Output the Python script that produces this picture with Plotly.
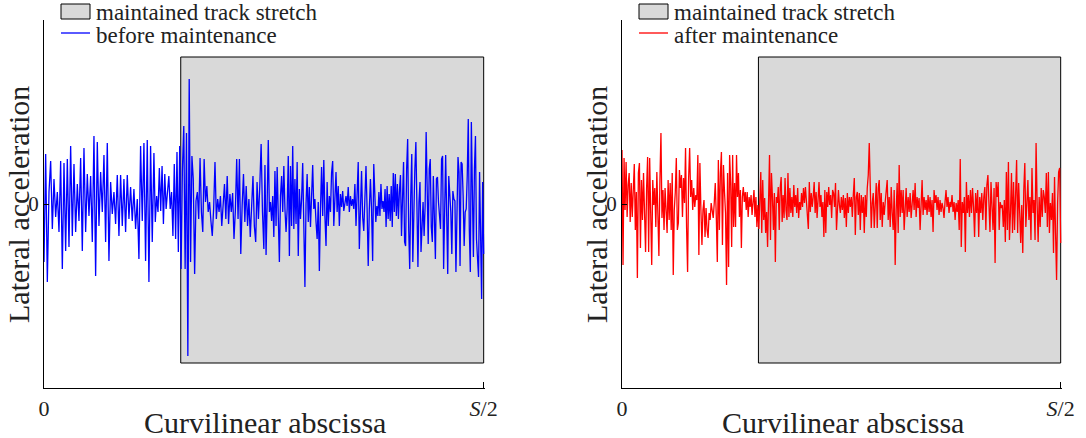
import numpy as np
import plotly.graph_objects as go

# ---- data (lateral acceleration, arbitrary units; abscissa in units of S/2) ----
before_q1 = [-58,50,-78,12,43,-25,25,-13,12,-28,43,-65,41,-47,45,-43,58,-32,40,-28,20,-17,46,-47,56,-28,30,-12,28,-38,68,-72,62,-22,32,-8,49,-38,61,-57,22,-10,12,-20,29,-32,29,-22,25,-28,29,-15,17,-17,15,-25,5,-55,58,-17,61,-57,64,-78,58,-38]
before_q2 = [51,-18,8,-8,36,-7,38,-20,30,-5,12,28,-5,12,-32,40,-35,52,-48,58,-65,35,78,-65,71,-152,125,-58,48,25,-70,3,12,-15,46,-8,-28,45,2,18,-8,2,-17,-32,-5,42,-15,5,-8,8,-22,-2,20,-15,28,-20,10,-8,11,-35,-7,45,-15,45,-50,-2,30,-18,18,-22,5,-33,8,28,-22,-38,22,-15,18,60,-8]
before_q3 = [-45,39,-51,2,64,-8,2,-17,8,-33,33,-22,37,-12,-58,8,28,-8,38,-5,-28,-5,48,-52,38,-22,58,-25,25,-20,42,-52,15,-15,5,41,-25,-83,0,30,-18,17,-23,5,39,-5,5,-18,-35,2,-67,-5,37,-12,44,-12,-42,22,-22,8,-8,31,43,-22,2,32,-8,18,-22,10,-3,13,-7,2,8,-2,17,-8,8,-2,5,-5,20,-22,8,42,-45,2,33,-13,-27,5,38,-5,-62,-5,25,-5,-57]
before_q4 = [40,18,-18,-2,-12,12,-12,20,-5,3,-8,15,-23,18,-15,10,-17,18,-23,31,-8,30,-12,20,-15,13,29,-32,8,42,-38,-42,35,65,-25,-65,8,50,-58,2,35,62,-5,-63,2,22,-48,-25,2,-32,-2,72,-5,-40,35,45,-23,-38,28,-23,-55,25,27,2,-12,-25,45,48,-65,8,49,-12,-70,28,8,-8,-50,13,5,3,-68,22,47,32,-62,42,40,8,-42,-8,-5,28,85,-25,-68,82,0,-53,35,68,-35,-55,-73,32,-38,-95,22,-50]

after_q1 = [54,-61,46,-6,42,-13,19,31,-18,21,-13,12,40,-26,12,-74,31,41,-44,24,-16,31,-19,-48,16,47,-48,46,-9,-61,24,-1,16,-23,32,-8,-52,24,71,-14,14,-26,16,-6,-29,24,-16,21,-26,31,-71,-6,12,46,-26,-19,34,16,29,-13,26,1,56,-23,-68,26,56,7,24,-6,16,-3,9,4,49,-51,41,-6,-41,-6,4,-33,-4,-26,-34,-9,-16,1,-6,-14,1,21,-13,-58,44,-26,31,52,-41,39,12,-9,-81,31,-63,49,21]
after_q2 = [-43,49,-23,21,-23,49,7,31,-13,14,-44,7,17,2,12,-6,12,-13,7,-3,9,-11,4,14,-13,7,-23,-1,-25,17,32,-29,24,-16,6,-29,-8,-43,7,49,-36,31,7,-26,11,-58,7,1,17,-26,16,27,-18,9,-14,26,-6,-16,31,-13,16,-9,7,-13,19,-3,9,-9,16,-14,2,-6,11,-3,16,1,17,2,-4,-25,22,-8,11,-3,7,22,-9,12,-14,9,22,-3,9,-13,2,-33,14,-29,12,-3,17,-1,9,-14,14,11,-3,21,-26,-6,14,-1,-9]
after_q3 = [7,-6,9,-14,6,-23,11,-9,7,-3,7,-13,9,26,-31,7,12,-11,11,-26,9,-9,7,-29,9,-13,16,29,61,7,-24,1,11,-24,9,21,-24,16,24,-16,11,-23,2,-11,2,12,24,-16,7,-23,17,-9,-26,14,-61,-6,21,-29,39,-13,14,-9,14,-26,-3,16,-13,7,-8,11,-14,2,14,-6,21,-13,7,-4,6,-26,7,24,-11,7,-6,4,-11,9,-8,7,-13,4,-28,14,1,9,-6,7,-11,4,-8,1,-4,-14,2,14,-3,7,-9,2]
after_q4 = [-3,9,-8,2,-16,1,-8,4,-26,45,-43,2,-9,7,-48,22,-9,9,-13,14,-9,16,-3,-33,11,-9,14,-33,7,-9,11,-16,7,17,-26,19,29,-9,-28,22,-9,-26,16,-59,22,7,22,-26,2,-4,-1,-23,4,-38,32,-26,42,-36,-9,31,-29,22,-26,21,44,-29,21,-9,-39,-1,-49,14,41,-23,4,24,-16,7,-36,36,-9,4,-36,61,1,-38,7,-23,16,-13,14,7,-9,31,-23,32,-29,1,-16,11,-49,27,-29,-76,1,32,36,-39]

stretch_start = 0.311
stretch_end = 1.0
stretch_top = 147
stretch_bottom = -159
y_half = 184

x_tickvals = [0, 1]
x_ticktext = ["0", "<i>S</i>/2"]
legend_labels = ["maintained track stretch", "before maintenance", "after maintenance"]
x_title = "Curvilinear abscissa"
y_title = "Lateral acceleration"


def abscissa(segments):
    bounds = np.linspace(0, 1, len(segments) + 1)
    parts = []
    for i, seg in enumerate(segments):
        last = i == len(segments) - 1
        parts.append(np.linspace(bounds[i], bounds[i + 1], len(seg), endpoint=last))
    return np.concatenate(parts)


before_segs = [before_q1, before_q2, before_q3, before_q4]
after_segs = [after_q1, after_q2, after_q3, after_q4]
x_before = abscissa(before_segs)
y_before = np.concatenate(before_segs)
x_after = abscissa(after_segs)
y_after = np.concatenate(after_segs)

FONT = "Liberation Serif"
TXT = "#222222"
W, H = 1086, 438

fig = go.Figure()

panels = [
    ("x", "y", x_before, y_before, "#0000ff", legend_labels[1], 0),
    ("x2", "y2", x_after, y_after, "#ff0000", legend_labels[2], 578),
]
shapes = []
annotations = []
for xa, ya, xs, ys, col, name, off in panels:
    fig.add_trace(go.Scatter(
        x=[stretch_start, stretch_end, stretch_end, stretch_start, stretch_start],
        y=[stretch_bottom, stretch_bottom, stretch_top, stretch_top, stretch_bottom],
        fill="toself", fillcolor="#d9d9d9", mode="lines",
        line=dict(color="#000000", width=1),
        name=legend_labels[0], xaxis=xa, yaxis=ya, hoverinfo="skip"))
    fig.add_trace(go.Scatter(
        x=xs, y=ys, mode="lines", line=dict(color=col, width=1.3),
        name=name, xaxis=xa, yaxis=ya))
    # legend drawn by hand (box icon + line icon + labels)
    shapes.append(dict(type="rect", xref="paper", yref="paper",
                       x0=(61 + off) / W, x1=(90 + off) / W, y0=1 - 19 / H, y1=1 - 4 / H,
                       fillcolor="#d9d9d9", line=dict(color="#000000", width=1)))
    shapes.append(dict(type="line", xref="paper", yref="paper",
                       x0=(61 + off) / W, x1=(90 + off) / W, y0=1 - 33 / H, y1=1 - 33 / H,
                       line=dict(color=col, width=1.3)))
    annotations.append(dict(text=legend_labels[0], xref="paper", yref="paper",
                            x=(94 + off) / W, y=1 - 12 / H, xanchor="left", yanchor="middle",
                            showarrow=False, font=dict(family=FONT, size=23, color=TXT)))
    annotations.append(dict(text=name, xref="paper", yref="paper",
                            x=(94 + off) / W, y=1 - 35 / H, xanchor="left", yanchor="middle",
                            showarrow=False, font=dict(family=FONT, size=23, color=TXT)))
    annotations.append(dict(text=x_title, xref="paper", yref="paper",
                            x=(265 + off) / W, y=1 - 422 / H, xanchor="center", yanchor="middle",
                            showarrow=False, font=dict(family=FONT, size=30, color=TXT)))
    annotations.append(dict(text=y_title, xref="paper", yref="paper", textangle=-90,
                            x=(19 + off) / W, y=1 - 205 / H, xanchor="center", yanchor="middle",
                            showarrow=False, font=dict(family=FONT, size=30, color=TXT)))

ydom = [1 - 388 / H, 1 - 20 / H]
common_x = dict(range=[0, 1.003], showline=True, linecolor="#000000", linewidth=1.3,
                ticks="inside", ticklen=6, tickcolor="#000000", tickwidth=1,
                tickvals=x_tickvals, ticktext=x_ticktext, showgrid=False, zeroline=False,
                automargin=False, tickfont=dict(family=FONT, size=22, color=TXT))
common_y = dict(range=[-y_half, y_half], domain=ydom, showline=True, linecolor="#000000", linewidth=1.3,
                ticks="inside", ticklen=5, tickcolor="#000000", tickwidth=1,
                tickvals=[0], ticktext=["0"], showgrid=False, zeroline=False, ticklabelstandoff=0,
                automargin=False, tickfont=dict(family=FONT, size=21, color=TXT))

fig.update_layout(
    width=W, height=H, margin=dict(l=0, r=0, t=0, b=0),
    paper_bgcolor="white", plot_bgcolor="white",
    xaxis=dict(domain=[44 / W, 485 / W], anchor="y", **common_x),
    yaxis=dict(anchor="x", **common_y),
    xaxis2=dict(domain=[622 / W, 1062 / W], anchor="y2", **common_x),
    yaxis2=dict(anchor="x2", **common_y),
    showlegend=False,
    shapes=shapes,
    annotations=annotations,
)

fig.write_html("out.html", config={"displayModeBar": False},
               post_script="document.body.style.margin='0';document.body.style.overflow='hidden';")
